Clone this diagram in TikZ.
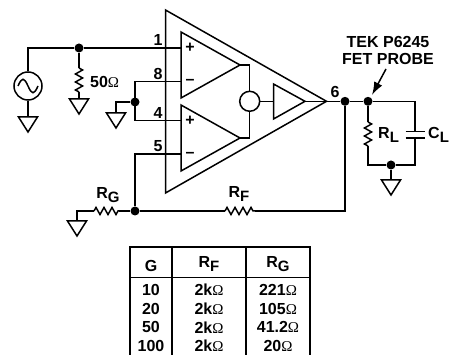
\documentclass[tikz,border=0pt]{standalone}
\usepackage{fontspec}
\setmainfont{Liberation Sans}
\usetikzlibrary{arrows.meta,decorations.pathmorphing}
\newfontfamily\ohmfont{Liberation Serif}
\newcommand{\ohm}{{\ohmfont\mdseries\fontsize{15}{15}\selectfont\char"03A9}}
\newcommand{\subtxt}[2]{#1\raisebox{-3.5pt}{\fontsize{15}{15}\selectfont #2}}

\begin{document}
\begin{tikzpicture}[
		x=1pt, y=-1pt,
		wire/.style={line width=1.5pt, line join=miter},
		conn/.style={inner sep=0pt, minimum size=9pt, circle, fill=black},
		lab/.style={inner sep=0pt, font=\bfseries\fontsize{16}{17}\selectfont, align=center},
		pin/.style={lab},
		resistor/.style={wire, decorate, decoration={zigzag, segment length=8pt, amplitude=3.6pt, pre length=0pt, post length=0pt}},
		ground/.pic={\draw[wire] (-9.5,0) -- (9.5,0) -- (0,15) -- cycle;},
	]
		\useasboundingbox (0,0) rectangle (450,355);

		% amplifier bodies
		\draw[wire] (165.5,10) -- (326.5,101.3) -- (165.5,193) -- cycle;
		\draw[wire] (181,32) -- (240,65) -- (181,98) -- cycle;
		\draw[wire] (181,105) -- (240,138) -- (181,171) -- cycle;
		\draw[wire] (273.5,84) -- (305,101.3) -- (273.5,119) -- cycle;
		\node [wire, draw, circle, minimum size=20pt, inner sep=0pt] (sum) at (249.7,101.3) {};

		% junctions and free ends
		\node [conn] (in) at (79,48) {};
		\node [conn] (bias) at (135,102) {};
		\node [conn] (fb) at (135,211) {};
		\node [conn] (out) at (345,101.3) {};
		\node [conn] (probe) at (368,101.3) {};
		\node [conn] (load) at (391,165) {};
		\node [wire, draw, circle, minimum size=28pt, inner sep=0pt] (src) at (28,86) {};
		\coordinate (in p) at (181,48);
		\coordinate (in n) at (181,81.5);
		\coordinate (ref p) at (181,120.5);
		\coordinate (ref n) at (181,154);
		\coordinate (a top) at (240,65);
		\coordinate (a bot) at (240,138);
		\coordinate (buf in) at (273.5,101.3);
		\coordinate (buf out) at (305,101.3);
		\coordinate (gnd src) at (28,117);
		\coordinate (gnd term) at (79,99);
		\coordinate (gnd bias) at (116,113);
		\coordinate (gnd g) at (77,221);
		\coordinate (gnd load) at (391,180);
		\coordinate (term a) at (79,68);
		\coordinate (term b) at (79,92);
		\coordinate (rg a) at (94,211);
		\coordinate (rg b) at (119,211);
		\coordinate (rf a) at (225,211);
		\coordinate (rf b) at (255,211);
		\coordinate (rl a) at (368,122);
		\coordinate (rl b) at (368,146);
		\coordinate (cl a) at (415,131.5);
		\coordinate (cl b) at (415,138);
		\coordinate (tip) at (372,95);
		\coordinate (tail) at (386,69);

		% grounds
		\pic at (gnd src) {ground};
		\pic at (gnd term) {ground};
		\pic at (gnd bias) {ground};
		\pic at (gnd g) {ground};
		\pic at (gnd load) {ground};

		% source and termination
		\draw[wire] (src.south) -- (gnd src);
		\draw[wire] (src.north) |- (in.west);
		\draw[wire] (in) -- (in p);
		\draw[wire] (in) -- (term a);
		\draw[wire] (term b) -- (gnd term);
		\draw[resistor] (term a) -- (term b);
		\draw[wire] ([xshift=-10pt]src.center) .. controls +(4,-9) and +(-4,-9) .. (src.center) .. controls +(4,9) and +(-4,9) .. ([xshift=10pt]src.center);

		% reference pins
		\draw[wire] (in n) -| (ref p -| bias) -- (ref p);
		\draw[wire] (bias) -| (gnd bias);

		% feedback
		\draw[wire] (ref n) -| (fb);
		\draw[wire] (gnd g) |- (rg a);
		\draw[resistor] (rg a) -- (rg b);
		\draw[wire] (rg b) -- (fb);
		\draw[wire] (fb) -- (rf a);
		\draw[resistor] (rf a) -- (rf b);
		\draw[wire] (rf b) -| (out);

		% inner outputs
		\draw[wire] (a top) -| (sum.north);
		\draw[wire] (a bot) -| (sum.south);
		\draw[wire] (sum.east) -- (buf in);
		\draw[wire] (buf out) -- (out);

		% load
		\draw[wire] (out) -- (probe);
		\draw[wire] (probe) -- (rl a);
		\draw[resistor] (rl a) -- (rl b);
		\draw[wire] (rl b) |- (load.west);
		\draw[wire] (probe) -| (cl a);
		\draw[wire] (cl b) |- (load.east);
		\draw[wire] (load) -- (gnd load);
		\draw[wire] ([xshift=-9.5pt]cl a) -- ([xshift=9.5pt]cl a);
		\draw[wire] ([xshift=-9.5pt]cl b) -- ([xshift=9.5pt]cl b);
		\draw[wire, -{Latex[length=13pt,width=9pt]}] (tail) -- (tip);

		% labels
		\node [pin] (pin 1) at (158,40) {1};
		\node [pin] (pin 8) at (158,74) {8};
		\node [pin] (pin 4) at (158,113) {4};
		\node [pin] (pin 5) at (158,146) {5};
		\node [pin] (pin 6) at (335,92) {6};
		\node [lab] (plus a) at (190,48) {+};
		\node [lab] (minus a) at (190,82) {--};
		\node [lab] (plus b) at (190,121) {+};
		\node [lab] (minus b) at (190,155) {--};
		\node [lab, anchor=west] (term val) at (90,82) {50\ohm};
		\node [lab] (probe name) at (388,50) {TEK P6245\\FET PROBE};
		\node [lab] (rg val) at (108,195) {\subtxt{R}{G}};
		\node [lab] (rf val) at (239,194) {\subtxt{R}{F}};
		\node [lab, anchor=west] (rl val) at (378,135) {\subtxt{R}{L}};
		\node [lab, anchor=west] (cl val) at (428,135) {\subtxt{C}{L}};

		% table
		\draw[wire] (130,355) -- (130,247) -- (310,247) -- (310,355);
		\draw[wire] (130,277.5) -- (310,277.5);
		\draw[wire] (172,247) -- (172,355);
		\draw[wire] (246,247) -- (246,355);
		\node [lab] (head g) at (151,266) {G};
		\node [lab] (head f) at (209,264) {\subtxt{R}{F}};
		\node [lab] (head r) at (278,264) {\subtxt{R}{G}};
		\foreach \gain/\rf/\rg [count=\i] in {10/2k/221, 20/2k/105, 50/2k/41.2, 100/2k/20} {
			\node [lab] (g \i) at (151,{290+(\i-1)*18.7}) {\gain};
			\node [lab] (f \i) at (209,{290+(\i-1)*18.7}) {\rf\ohm};
			\node [lab] (r \i) at (278,{290+(\i-1)*18.7}) {\rg\ohm};
		}
	\end{tikzpicture}
\end{document}
